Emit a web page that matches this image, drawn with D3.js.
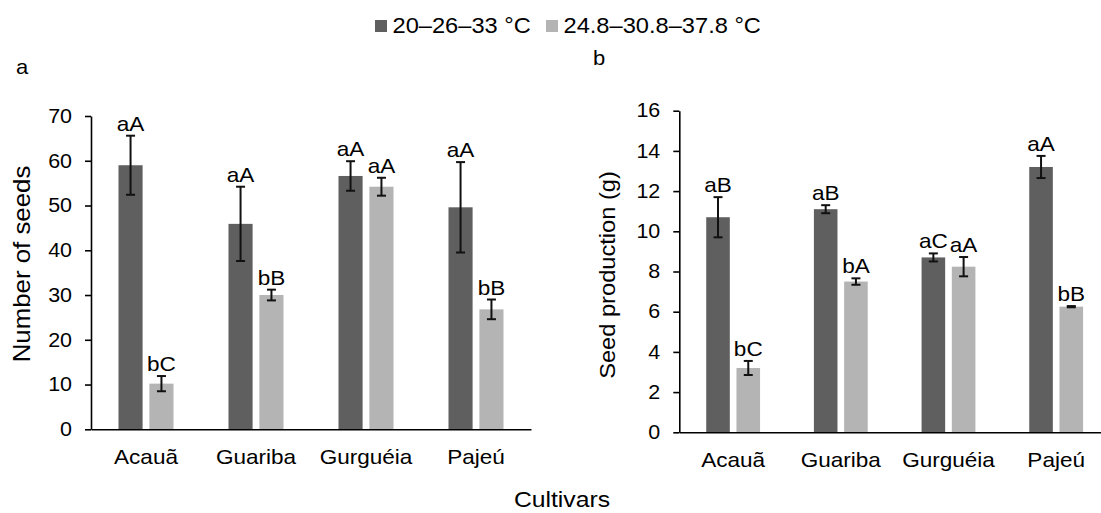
<!doctype html>
<html>
<head>
<meta charset="utf-8">
<script src="https://d3js.org/d3.v7.min.js"></script>
<style>
  body{ margin:0; background:#fff; }
  svg text{ font-family:"Liberation Sans", Arial, sans-serif; fill:#000; }
  .domain{ stroke:#000; stroke-width:1.6px; }
  .tick line{ stroke:#000; stroke-width:1.6px; }
  .err line{ stroke:#111; stroke-width:2px; }
</style>
</head>
<body>
<svg id="fig" width="1101" height="513"></svg>
<script>
// data
var cultivars = ['Acauã', 'Guariba', 'Gurguéia', 'Pajeú'];
var seriesNames = ['20–26–33 °C', '24.8–30.8–37.8 °C'];
var seriesColors = ['#5f5f5f', '#b4b4b4'];

// (a) number of seeds
var seedsLow = [59.0, 45.9, 56.6, 49.6];
var seedsLowErr = [6.6, 8.3, 3.3, 10.1];
var seedsLowLetters = ['aA', 'aA', 'aA', 'aA'];
var seedsHigh = [10.2, 30.0, 54.2, 26.8];
var seedsHighErr = [1.7, 1.2, 2.0, 2.2];
var seedsHighLetters = ['bC', 'bB', 'aA', 'bB'];
var seedTicks = [0, 10, 20, 30, 40, 50, 60, 70];

// (b) seed production (g)
var prodLow = [10.7, 11.1, 8.7, 13.2];
var prodLowErr = [1.0, 0.2, 0.2, 0.55];
var prodLowLetters = ['aB', 'aB', 'aC', 'aA'];
var prodHigh = [3.2, 7.5, 8.24, 6.25];
var prodHighErr = [0.35, 0.16, 0.48, 0.03];
var prodHighLetters = ['bC', 'bA', 'aA', 'bB'];
var prodTicks = [0, 2, 4, 6, 8, 10, 12, 14, 16];

var K = 1.1; // the figure's lettering is a bit wider than Arial
var svg = d3.select('#fig');

function widen(t, x, y, rot){
  t.attr('transform', 'translate(' + x + ',' + y + ')' + (rot ? ' rotate(' + rot + ')' : '') + ' scale(' + K + ',1)');
  return t;
}

function panel(cfg){
  var g = svg.append('g');
  var x0 = d3.scaleBand().domain(cultivars).range([cfg.left, cfg.right]);
  var bw = x0.bandwidth();
  var x1 = d3.scaleBand().domain(seriesNames).range([bw * 0.25, bw * 0.75]).paddingInner(0.22);
  var y = d3.scaleLinear().domain([0, d3.max(cfg.ticks)]).range([cfg.bottom, cfg.top]);

  var rows = [];
  cultivars.forEach(function(c, i){
    rows.push({c: c, s: seriesNames[0], v: cfg.low[i], e: cfg.lowErr[i], l: cfg.lowLetters[i], k: 0});
    rows.push({c: c, s: seriesNames[1], v: cfg.high[i], e: cfg.highErr[i], l: cfg.highLetters[i], k: 1});
  });

  // bars
  g.selectAll('rect.bar').data(rows).enter().append('rect').attr('class', 'bar')
    .attr('x', function(d){ return x0(d.c) + x1(d.s); })
    .attr('width', x1.bandwidth())
    .attr('y', function(d){ return y(d.v); })
    .attr('height', function(d){ return y(0) - y(d.v); })
    .attr('fill', function(d){ return seriesColors[d.k]; });

  // axes
  var xAxis = d3.axisBottom(x0).tickSize(0).tickSizeOuter(0);
  var xg = g.append('g').attr('transform', 'translate(0,' + cfg.bottom + ')').call(xAxis);
  xg.selectAll('.tick text').each(function(){
    var t = d3.select(this).attr('dy', null).attr('y', null).style('font-size', '20.5px');
    widen(t, 0, 35);
  });

  var yAxis = d3.axisLeft(y).tickValues(cfg.ticks).tickSize(6).tickPadding(13).tickSizeOuter(0);
  var yg = g.append('g').attr('transform', 'translate(' + cfg.left + ',0)').call(yAxis);
  yg.selectAll('.tick text').each(function(){
    var t = d3.select(this);
    var tx = +t.attr('x');
    t.attr('x', null).style('font-size', '19.5px');
    widen(t, tx, 0);
  });

  // error bars
  var eg = g.selectAll('g.err').data(rows).enter().append('g').attr('class', 'err')
    .attr('transform', function(d){ return 'translate(' + (x0(d.c) + x1(d.s) + x1.bandwidth() / 2) + ',0)'; });
  eg.append('line').attr('x1', 0).attr('x2', 0)
    .attr('y1', function(d){ return y(d.v + d.e); })
    .attr('y2', function(d){ return y(d.v - d.e); });
  eg.append('line').attr('x1', -4.5).attr('x2', 4.5)
    .attr('y1', function(d){ return y(d.v + d.e); })
    .attr('y2', function(d){ return y(d.v + d.e); });
  eg.append('line').attr('x1', -4.5).attr('x2', 4.5)
    .attr('y1', function(d){ return y(d.v - d.e); })
    .attr('y2', function(d){ return y(d.v - d.e); });

  // significance letters
  eg.append('text').attr('text-anchor', 'middle').style('font-size', '20.5px')
    .text(function(d){ return d.l; })
    .each(function(d){ widen(d3.select(this), 0, y(d.v + d.e) - 5); });

  // axis title
  widen(g.append('text').attr('text-anchor', 'middle').style('font-size', cfg.titleSize + 'px').text(cfg.title),
    cfg.titleX, cfg.titleY, -90);

  // panel letter
  widen(g.append('text').style('font-size', '20px').text(cfg.letter), cfg.letterX, cfg.letterY);
}

panel({
  left: 91, right: 531, top: 116, bottom: 429.3,
  ticks: seedTicks,
  low: seedsLow, lowErr: seedsLowErr, lowLetters: seedsLowLetters,
  high: seedsHigh, highErr: seedsHighErr, highLetters: seedsHighLetters,
  title: 'Number of seeds', titleSize: 23.5, titleX: 30, titleY: 264,
  letter: 'a', letterX: 16, letterY: 74
});

panel({
  left: 679.3, right: 1110, top: 110.7, bottom: 432.3,
  ticks: prodTicks,
  low: prodLow, lowErr: prodLowErr, lowLetters: prodLowLetters,
  high: prodHigh, highErr: prodHighErr, highLetters: prodHighLetters,
  title: 'Seed production (g)', titleSize: 21.5, titleX: 615, titleY: 275,
  letter: 'b', letterX: 593, letterY: 65
});

// shared x title
widen(svg.append('text').attr('text-anchor', 'middle').style('font-size', '22.5px').text('Cultivars'), 562, 507);

// legend
var legX = [375, 546];
var leg = svg.selectAll('g.leg').data(seriesNames).enter().append('g').attr('class', 'leg')
  .attr('transform', function(d, i){ return 'translate(' + legX[i] + ',20)'; });
leg.append('rect').attr('width', 12).attr('height', 12)
  .attr('fill', function(d, i){ return seriesColors[i]; });
leg.append('text').style('font-size', '21.5px').text(function(d){ return d; })
  .each(function(){ widen(d3.select(this), 17.5, 12.5); });
</script>
</body>
</html>
